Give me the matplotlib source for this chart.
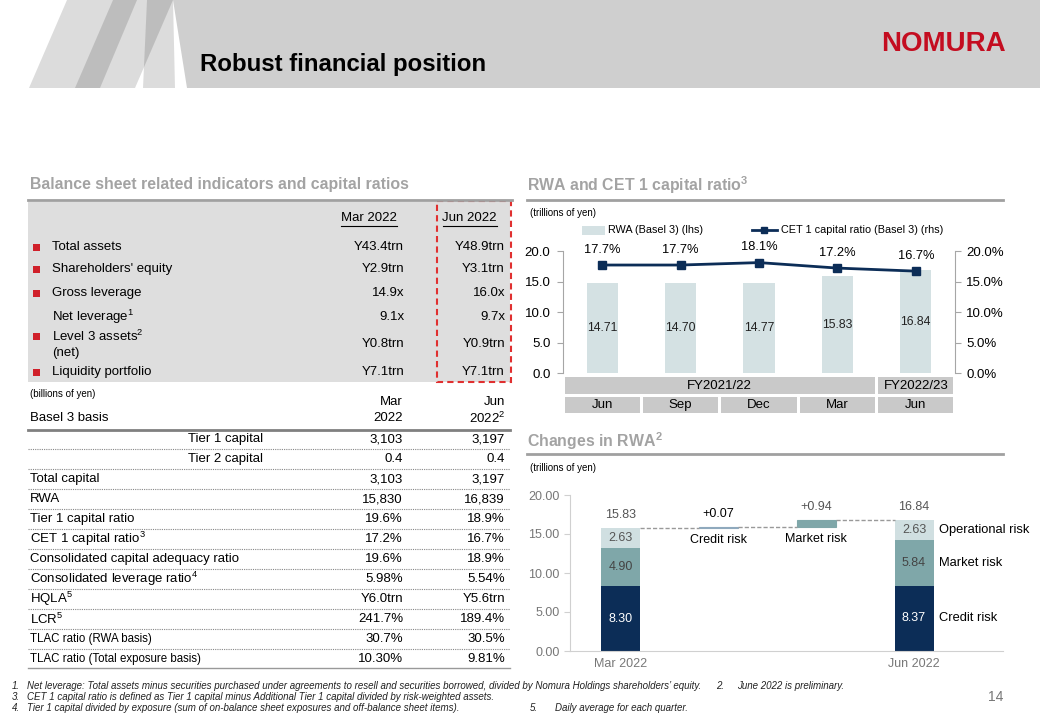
import matplotlib
matplotlib.use('Agg')
import matplotlib.pyplot as plt
from matplotlib.patches import Rectangle, Polygon
from matplotlib.transforms import blended_transform_factory

plt.rcParams['font.family'] = ['Liberation Sans', 'DejaVu Sans']
plt.rcParams['mathtext.fontset'] = 'custom'
plt.rcParams['mathtext.rm'] = 'Liberation Sans'
plt.rcParams['mathtext.default'] = 'regular'

W, H = 1040, 720

# balance sheet indicators
bs_labels = ['Total assets', "Shareholders' equity", 'Gross leverage',
             'Net leverage$^{1}$', 'Level 3 assets$^{2}$\n(net)', 'Liquidity portfolio']
bs_bullet = [True, True, True, False, True, True]
bs_mar = ['Y43.4trn', 'Y2.9trn', '14.9x', '9.1x', 'Y0.8trn', 'Y7.1trn']
bs_jun = ['Y48.9trn', 'Y3.1trn', '16.0x', '9.7x', 'Y0.9trn', 'Y7.1trn']

# basel 3 table (billions of yen)
basel_labels = ['Tier 1 capital', 'Tier 2 capital', 'Total capital', 'RWA',
                'Tier 1 capital ratio', 'CET 1 capital ratio$^{3}$',
                'Consolidated capital adequacy ratio', 'Consolidated leverage ratio$^{4}$',
                'HQLA$^{5}$', 'LCR$^{5}$', 'TLAC ratio (RWA basis)',
                'TLAC ratio (Total exposure basis)']
basel_mar = ['3,103', '0.4', '3,103', '15,830', '19.6%', '17.2%', '19.6%',
             '5.98%', 'Y6.0trn', '241.7%', '30.7%', '10.30%']
basel_jun = ['3,197', '0.4', '3,197', '16,839', '18.9%', '16.7%', '18.9%',
             '5.54%', 'Y5.6trn', '189.4%', '30.5%', '9.81%']

# RWA and CET1 ratio
quarters = ['Jun', 'Sep', 'Dec', 'Mar', 'Jun']
fiscal_years = ['FY2021/22', 'FY2022/23']
fy_span = [4, 1]
rwa = [14.71, 14.70, 14.77, 15.83, 16.84]
cet1 = [17.7, 17.7, 18.1, 17.2, 16.7]

# changes in RWA (trillions of yen)
risk_types = ['Credit risk', 'Market risk', 'Operational risk']
rwa_mar = [8.30, 4.90, 2.63]
rwa_jun = [8.37, 5.84, 2.63]
change_labels = ['Credit risk', 'Market risk']
changes = [0.07, 0.94]
period_labels = ['Mar 2022', '', '', 'Jun 2022']

navy = '#0c2d57'
teal = '#7fa7a9'
pale = '#d0dfe1'
bar_blue = '#d4e1e3'

fig = plt.figure(figsize=(W / 100, H / 100), dpi=100)
bg = fig.add_axes([0, 0, 1, 1])
bg.set_xlim(0, W)
bg.set_ylim(H, 0)
bg.axis('off')

# header
bg.add_patch(Polygon([(173, 0), (W, 0), (W, 88), (187, 88)], color='#cfcfcf', lw=0))
for pts in [[(29, 88), (100, 88), (137, 0), (67, 0)],
            [(75, 88), (135, 88), (173, 0), (113, 0)],
            [(143, 88), (175, 88), (173, 0), (147, 0)]]:
    bg.add_patch(Polygon(pts, color='black', alpha=0.137, lw=0))
bg.text(200, 65, 'Robust financial position', fontsize=17.3, fontweight='bold', va='center')
bg.text(943, 44, 'NOMURA', fontsize=20, fontweight='bold', color='#c40d20', ha='center', va='center')

# left section
bg.text(30, 185, 'Balance sheet related indicators and capital ratios', fontsize=11.4,
        fontweight='bold', color='#a3a3a3', va='center')
bg.add_patch(Rectangle((28, 202), 482, 180, color='#dedede', lw=0))
bg.plot([28, 512], [200, 200], color='#a0a0a0', lw=2)
bg.text(397, 218, 'Mar 2022', ha='right', va='center', fontsize=9.5)
bg.plot([341, 397], [226, 226], color='black', lw=0.8)
bg.text(497, 218, 'Jun 2022', ha='right', va='center', fontsize=9.5)
bg.plot([443, 497], [226, 226], color='black', lw=0.8)

bs_y = [247, 269, 293, 317, 344, 372]
for lab, bul, m, j, y in zip(bs_labels, bs_bullet, bs_mar, bs_jun, bs_y):
    lines = lab.split('\n')
    if len(lines) == 2:
        bg.text(52, y - 8, lines[0], va='center', fontsize=9.5)
        bg.text(52, y + 9, lines[1], va='center', fontsize=9.5)
        by = y - 8
    else:
        bg.text(52, y, lab, va='center', fontsize=9.5)
        by = y
    if bul:
        bg.add_patch(Rectangle((33, by - 3.5), 7, 7, color='#d0202a', lw=0))
    bg.text(404, y, m, ha='right', va='center', fontsize=9.5)
    bg.text(505, y, j, ha='right', va='center', fontsize=9.5)

bg.add_patch(Rectangle((437, 201), 74, 181, fill=False, ec='#e03030', lw=1.5, ls=(0, (3, 2))))

bg.text(30, 394, '(billions of yen)', fontsize=7, va='center')
bg.text(30, 418, 'Basel 3 basis', fontsize=9.5, va='center')
bg.text(403, 402, 'Mar', fontsize=9.5, va='center', ha='right')
bg.text(403, 418, '2022', fontsize=9.5, va='center', ha='right')
bg.text(505, 402, 'Jun', fontsize=9.5, va='center', ha='right')
bg.text(505, 418, '2022$^{2}$', fontsize=9.5, va='center', ha='right')
bg.plot([28, 510], [430, 430], color='#808080', lw=2)

for i, (lab, m, j) in enumerate(zip(basel_labels, basel_mar, basel_jun)):
    y = 439 + 20 * i
    fs = 8.3 if lab.startswith('TLAC') else 9.5
    if i < 2:
        bg.text(263, y, lab, ha='right', va='center', fontsize=fs)
    else:
        bg.text(30, y, lab, ha='left', va='center', fontsize=fs)
    bg.text(403, y, m, ha='right', va='center', fontsize=9.5)
    bg.text(505, y, j, ha='right', va='center', fontsize=9.5)
    if i < len(basel_labels) - 1:
        bg.plot([28, 510], [y + 10, y + 10], color='#888888', lw=0.8, ls=(0, (1, 1)))
bg.plot([28, 510], [668, 668], color='#999999', lw=1)

# RWA and CET1 chart
bg.text(527, 185, 'RWA and CET 1 capital ratio$^{3}$', fontsize=11.4, fontweight='bold',
        color='#a3a3a3', va='center')
bg.plot([527, 1003], [200, 200], color='#a0a0a0', lw=2)
bg.text(530, 213, '(trillions of yen)', fontsize=7, va='center')
bg.add_patch(Rectangle((582, 226), 23, 9, color=bar_blue, lw=0))
bg.text(608, 230, 'RWA (Basel 3) (lhs)', fontsize=7.8, va='center')
bg.plot([752, 777], [230, 230], color=navy, lw=2)
bg.plot([764], [230], marker='s', ms=5, color=navy)
bg.text(781, 230, 'CET 1 capital ratio (Basel 3) (rhs)', fontsize=7.8, va='center')

ax1 = fig.add_axes([563 / W, 1 - 373 / H, (955 - 563) / W, (373 - 251) / H])
xq = list(range(len(quarters)))
ax1.bar(xq, rwa, width=0.4, color=bar_blue)
for x, v in zip(xq, rwa):
    ax1.text(x, v / 2, f'{v:.2f}', ha='center', va='center', fontsize=8.8, color='#222222')
ax1.set_xlim(-0.5, len(quarters) - 0.5)
ax1.set_ylim(0, 20)
ax1.set_yticks([0, 5, 10, 15, 20])
ax1.set_yticklabels([f'{t:.1f}' for t in [0, 5, 10, 15, 20]])
ax1.set_xticks([])
for s in ['top', 'bottom', 'right']:
    ax1.spines[s].set_visible(False)
ax1.spines['left'].set_color('#a6a6a6')
ax1.tick_params(axis='y', length=4, color='#a6a6a6', labelsize=9.5, pad=5)

ax2 = ax1.twinx()
ax2.plot(xq, cet1, color=navy, lw=2, marker='s', ms=5.5)
for x, v in zip(xq, cet1):
    ax2.annotate(f'{v:.1f}%', (x, v), xytext=(0, 11), textcoords='offset points',
                 ha='center', va='center', fontsize=9.3)
ax2.set_ylim(0, 20)
ax2.set_yticks([0, 5, 10, 15, 20])
ax2.set_yticklabels([f'{t:.1f}%' for t in [0, 5, 10, 15, 20]])
for s in ['top', 'bottom', 'left']:
    ax2.spines[s].set_visible(False)
ax2.spines['right'].set_color('#a6a6a6')
ax2.tick_params(axis='y', length=4, color='#a6a6a6', labelsize=9.5, pad=4)

# category table below the chart
tr = blended_transform_factory(ax1.transData, ax1.transAxes)
start = 0
for fy, n in zip(fiscal_years, fy_span):
    x0 = start - 0.5 + 0.02
    x1 = start + n - 0.5 - 0.02
    ax1.add_patch(Rectangle((x0, -0.172), x1 - x0, 0.139, transform=tr, color='#c9c9c9',
                            lw=0, clip_on=False))
    ax1.text((x0 + x1) / 2, -0.103, fy, transform=tr, ha='center', va='center', fontsize=9.5)
    start += n
for x, q in zip(xq, quarters):
    ax1.add_patch(Rectangle((x - 0.48, -0.328), 0.96, 0.131, transform=tr, color='#c9c9c9',
                            lw=0, clip_on=False))
    ax1.text(x, -0.262, q, transform=tr, ha='center', va='center', fontsize=9.5)

# changes in RWA
bg.text(527, 441, 'Changes in RWA$^{2}$', fontsize=11.4, fontweight='bold',
        color='#a3a3a3', va='center')
bg.plot([527, 1003], [454, 454], color='#a0a0a0', lw=2)
bg.text(530, 468, '(trillions of yen)', fontsize=7, va='center')

ax3 = fig.add_axes([570 / W, 1 - 651 / H, (1003 - 570) / W, (651 - 495) / H])
colors = [navy, teal, pale]
txt_colors = ['white', '#444444', '#555555']
for pos, stack in [(0, rwa_mar), (3, rwa_jun)]:
    bottom = 0
    for v, c, tc in zip(stack, colors, txt_colors):
        ax3.bar(pos, v, bottom=bottom, width=0.4, color=c)
        ax3.text(pos, bottom + v / 2, f'{v:.2f}', ha='center', va='center', fontsize=9, color=tc)
        bottom += v
    ax3.annotate(f'{bottom:.2f}', (pos, bottom), xytext=(0, 9), textcoords='offset points',
                 ha='center', va='center', fontsize=9, color='#555555')

level = sum(rwa_mar)
prev_right = 0.2
delta_colors = ['#a9c0d0', teal]
delta_txt = ['black', '#555555']
for i, (lab, d) in enumerate(zip(change_labels, changes)):
    pos = i + 1
    ax3.plot([prev_right, pos - 0.2], [level, level], color='#999999', lw=1, ls=(0, (3, 1.5)))
    ax3.bar(pos, d, bottom=level, width=0.4, color=delta_colors[i],
            edgecolor='#8fa9bd' if i == 0 else delta_colors[i], lw=0.8)
    ax3.annotate(f'+{d:.2f}', (pos, level + d), xytext=(0, 9), textcoords='offset points',
                 ha='center', va='center', fontsize=9, color=delta_txt[i])
    ax3.annotate(lab, (pos, level), xytext=(0, -9), textcoords='offset points',
                 ha='center', va='center', fontsize=9)
    level += d
    prev_right = pos + 0.2
ax3.plot([prev_right, 3 - 0.2], [level, level], color='#999999', lw=1, ls=(0, (3, 1.5)))

bottom = 0
for v, name in zip(rwa_jun, risk_types):
    ax3.text(3.26, bottom + v / 2, name, ha='left', va='center', fontsize=9.3)
    bottom += v

ax3.set_xlim(-0.52, 3.91)
ax3.set_ylim(0, 20)
ax3.set_yticks([0, 5, 10, 15, 20])
ax3.set_yticklabels([f'{t:.2f}' for t in [0, 5, 10, 15, 20]])
ax3.set_xticks(range(len(period_labels)))
ax3.set_xticklabels(period_labels)
for s in ['top', 'right']:
    ax3.spines[s].set_visible(False)
ax3.spines['left'].set_color('#d0d0d0')
ax3.spines['bottom'].set_color('#d0d0d0')
ax3.tick_params(axis='y', length=4, color='#d0d0d0', labelsize=9, labelcolor='#777777')
ax3.tick_params(axis='x', length=0, labelsize=9, labelcolor='#777777', pad=5)

# footnotes
fn = dict(fontsize=7.0, style='italic', va='center', color='#222222')
bg.text(12, 686, '1.', **fn)
bg.text(27, 686, "Net leverage: Total assets minus securities purchased under agreements to resell and "
        "securities borrowed, divided by Nomura Holdings shareholders\u2019 equity.", **fn)
bg.text(716, 686, '2.', **fn)
bg.text(737, 686, 'June 2022 is preliminary.', **fn)
bg.text(12, 697, '3.', **fn)
bg.text(27, 697, 'CET 1 capital ratio is defined as Tier 1 capital minus Additional Tier 1 capital '
        'divided by risk-weighted assets.', **fn)
bg.text(12, 708, '4.', **fn)
bg.text(27, 708, 'Tier 1 capital divided by exposure (sum of on-balance sheet exposures and '
        'off-balance sheet items).', **fn)
bg.text(530, 708, '5.', **fn)
bg.text(555, 708, 'Daily average for each quarter.', **fn)
bg.text(1003, 697, '14', fontsize=10, color='#777777', ha='right', va='center')

fig.savefig('out.png', dpi=100)
